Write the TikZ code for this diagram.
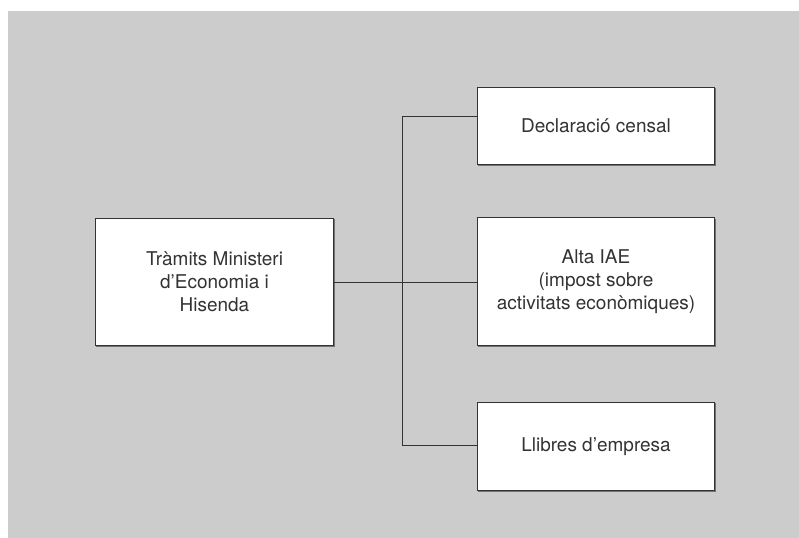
\documentclass[tikz,border=0pt]{standalone}
\usepackage{fontspec}
\setmainfont{TeX Gyre Heros}
\usetikzlibrary{shadows}

\definecolor{fonsgris}{HTML}{CCCCCC}
\definecolor{linia}{HTML}{333333}

\begin{document}
\begin{tikzpicture}[x=0.02cm,y=-0.02cm]
\tikzstyle{caixa}=[draw=linia,line width=0.02cm,fill=white,align=center,text=linia,
  font=\fontsize{10.8}{13}\selectfont,inner sep=0pt,
  drop shadow={shadow xshift=0.6pt,shadow yshift=-0.6pt,opacity=0.7,fill=black!70}]
\tikzstyle{enllac}=[draw=linia,line width=0.02cm]
\useasboundingbox (0,0) rectangle (799,538);
\fill [white] (0,0) rectangle (799,538);
\fill [fonsgris] (8,11) rectangle (799,538);
% caixes
\node [caixa,minimum width=4.78cm,minimum height=2.56cm] (tramits) at (214.5,282)
  {Tràmits Ministeri\\d’Economia i\\Hisenda};
\node [caixa,minimum width=4.76cm,minimum height=1.56cm] (censal) at (596,126)
  {Declaració censal};
\node [caixa,minimum width=4.76cm,minimum height=2.56cm] (iae) at (596,281.5)
  {Alta IAE\\(impost sobre\\activitats econòmiques)};
\node [caixa,minimum width=4.76cm,minimum height=1.78cm] (llibres) at (596,446.5)
  {Llibres d’empresa};
% connexions
\coordinate (jdalt) at (402,116);
\coordinate (jbaix) at (402,445);
\draw [enllac] (tramits.east) -- (tramits.east -| iae.west);
\draw [enllac] (censal.west |- jdalt) -- (jdalt) -- (jbaix) -- (llibres.west |- jbaix);
\end{tikzpicture}
\end{document}
